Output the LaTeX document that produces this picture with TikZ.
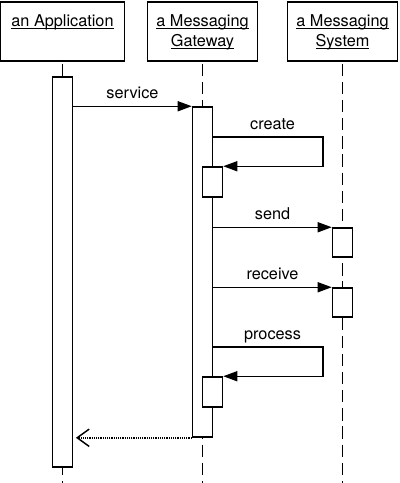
\documentclass[tikz,border=0pt]{standalone}
\usepackage{fontspec}
\setmainfont{TeX Gyre Heros}
\usetikzlibrary{arrows.meta}
\newcommand\ulin[1]{\setbox0\hbox{#1}\rlap{\rule[-1.8pt]{\wd0}{0.8pt}}\box0}
\begin{document}
\begin{tikzpicture}[x=0.75pt,y=-0.75pt,
  every node/.style={font=\fontsize{12.2pt}{15pt}\selectfont},
  hdr/.style={draw, line width=1.2pt, fill=white, inner sep=0pt, minimum height=44.25pt},
  htxt/.style={anchor=base, inner sep=0pt},
  act/.style={draw, line width=1.15pt, fill=white, inner sep=0pt, minimum width=15pt},
  life/.style={line width=1.3pt, dash pattern=on 9.2pt off 4.4pt},
  msg/.style={line width=1.1pt, -{Triangle[length=10.5pt, width=7.5pt]}},
  ret/.style={line width=1.2pt, dash pattern=on 0.9pt off 0.75pt, -{Straight Barb[length=9pt, width=13pt, line width=1.1pt]}, shorten >=2pt},
  lbl/.style={anchor=base, inner sep=0pt, yshift=6pt}]
\useasboundingbox (0,0) rectangle (400,483);
% headers
\node[hdr, minimum width=93pt] (app) at (62.5,31.5) {};
\node[hdr, minimum width=82.5pt] (gw) at (202.5,31.5) {};
\node[hdr, minimum width=82.5pt] (sys) at (342.5,31.5) {};
\node[htxt] (appT) at (62.5,26.7) {\ulin{an Application}};
\node[htxt] (gwT1) at (202.5,26.7) {\ulin{a Messaging}};
\node[htxt] (gwT2) at (202.5,46.7) {\ulin{Gateway}};
\node[htxt] (sysT1) at (342.5,26.7) {\ulin{a Messaging}};
\node[htxt] (sysT2) at (342.5,46.7) {\ulin{System}};
% lifelines
\coordinate (bot) at (0,484);
\draw[life] ([yshift=-1.5pt]app.south) -- (app.south |- bot);
\draw[life] ([yshift=-1.5pt]gw.south) -- (gw.south |- bot);
\draw[life] ([yshift=-1.5pt]sys.south) -- (sys.south |- bot);
% activations
\node[act, minimum height=292.5pt] (aAct) at (62.5,272) {};
\node[act, minimum height=247.5pt] (gAct) at (202.5,272) {};
\node[act, minimum height=22.5pt] (gC) at (212.5,182) {};
\node[act, minimum height=22.5pt] (gP) at (212.5,392) {};
\node[act, minimum height=21.75pt] (sS) at (342.5,242.5) {};
\node[act, minimum height=21.75pt] (sR) at (342.5,302.5) {};
% messages
\draw[msg] (aAct.east |- gAct.north) -- (gAct.north west) node[lbl, midway] {service};
\coordinate (c1) at (323,137);
\draw[msg] (gAct.east |- c1) -- (c1) node[lbl, pos=0.54] {create} -- (c1 |- gC.north) -- (gC.north east);
\draw[msg] (gAct.east |- sS.north) -- (sS.north west) node[lbl, midway] {send};
\draw[msg] (gAct.east |- sR.north) -- (sR.north west) node[lbl, midway] {receive};
\coordinate (c2) at (323,347);
\draw[msg] (gAct.east |- c2) -- (c2) node[lbl, pos=0.54] {process} -- (c2 |- gP.north) -- (gP.north east);
\draw[ret] (gAct.south west) -- (aAct.east |- gAct.south);
\end{tikzpicture}
\end{document}
